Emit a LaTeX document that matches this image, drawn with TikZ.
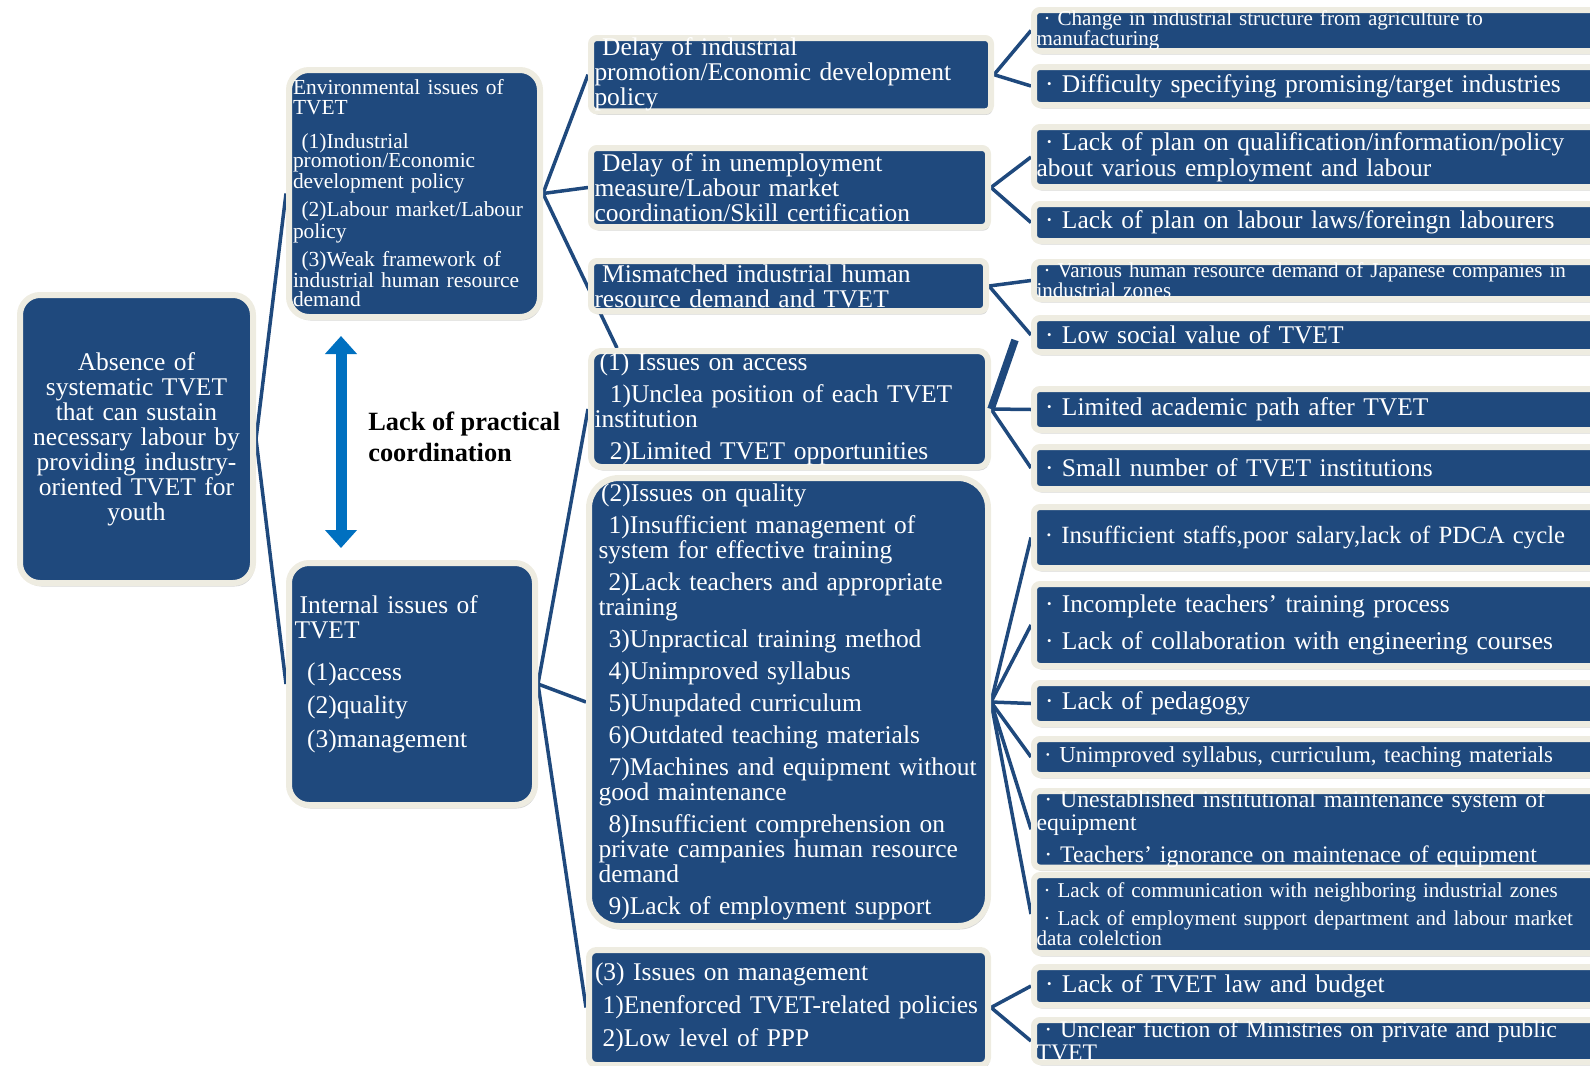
\documentclass[tikz,border=0pt]{standalone}
\usepackage{fontspec}
\setmainfont{Liberation Serif}
\usetikzlibrary{arrows.meta,shadows,backgrounds,calc}
\definecolor{boxblue}{RGB}{31,73,125}
\definecolor{boxrim}{RGB}{238,236,225}
\definecolor{arrowblue}{RGB}{0,112,192}
\newcommand{\bdot}{\makebox[1em]{\textperiodcentered}}

\begin{document}
\begin{tikzpicture}[x=0.2mm, y=-0.2mm,
  issue/.style={rectangle, rounded corners=1.2mm, fill=boxblue, draw=boxrim, line width=1.2mm, text=white, anchor=north west, align=left, inner xsep=0.8mm, inner ysep=0mm, drop shadow={shadow xshift=0.3mm, shadow yshift=-0.7mm, opacity=0.35, fill=black!45}},
  cause/.style={issue, minimum width=126mm, text width=125mm, inner xsep=0.4mm},
  bigtext/.style={font=\fontsize{14.5}{14.2}\selectfont},
  rbigtext/.style={font=\fontsize{14.5}{15}\selectfont},
  midtext/.style={font=\fontsize{13.5}{13}\selectfont},
  smalltext/.style={font=\fontsize{12}{11.3}\selectfont},
  envtext/.style={font=\fontsize{12.2}{10.9}\selectfont},
  branch/.style={draw=boxblue, line width=0.7mm}]
\useasboundingbox (0,0) rectangle (1590,1065);

% root and the two groups of issues
\node[issue, rounded corners=4mm, align=center, bigtext, minimum width=46.6mm, minimum height=57.6mm, text width=44mm] (root) at (17,292) {Absence of\\ systematic TVET\\ that can sustain\\ necessary labour by\\ providing industry-\\ oriented TVET for\\ youth};
\node[issue, rounded corners=4mm, envtext, minimum width=50.2mm, minimum height=49.4mm, text width=48.6mm] (env) at (286,67) {Environmental issues of\\ TVET\\[3mm]
  \hspace*{0.4em}(1)Industrial\\ promotion/Economic\\ development policy\\[1.4mm]
  \hspace*{0.4em}(2)Labour market/Labour\\ policy\\[1.4mm]
  \hspace*{0.4em}(3)Weak framework of\\ industrial human resource\\ demand};
\node[issue, rounded corners=4mm, bigtext, minimum width=49.2mm, minimum height=48.4mm, text width=47mm, inner xsep=1.1mm] (internal) at (286,560) {\hspace*{0.2em}Internal issues of\\ TVET\\[3.4mm]
  \hspace*{0.5em}(1)access\\[1.8mm] \hspace*{0.5em}(2)quality\\[1.8mm] \hspace*{0.5em}(3)management\\ \mbox{}};

% middle column
\node[issue, bigtext, minimum width=80mm, minimum height=14.4mm, text width=78.6mm, inner xsep=0.7mm] (delind) at (588,35) {\hspace*{0.3em}Delay of industrial\\ promotion/Economic development\\ policy};
\node[issue, bigtext, minimum width=79.4mm, minimum height=15.8mm, text width=78mm, inner xsep=0.7mm] (delunemp) at (588,145) {\hspace*{0.3em}Delay of in unemployment\\ measure/Labour market\\ coordination/Skill certification};
\node[issue, bigtext, minimum width=79mm, minimum height=10mm, text width=77.6mm, inner xsep=0.7mm] (mism) at (588,258) {\hspace*{0.3em}Mismatched industrial human\\ resource demand and TVET};
\node[issue, rounded corners=2mm, bigtext, minimum width=79.4mm, minimum height=23.2mm, text width=78mm, inner xsep=0.7mm] (access) at (588,348) {\hspace*{0.2em}(1) Issues on access\\[1.4mm]
  \hspace*{0.6em}1)Unclea position of each TVET\\ institution\\[1.4mm]
  \hspace*{0.6em}2)Limited TVET opportunities};
\node[issue, rounded corners=6mm, bigtext, minimum width=79.8mm, minimum height=89.6mm, text width=76mm, inner xsep=1.8mm] (quality) at (586,475) {\hspace*{0.1em}(2)Issues on quality\\[1.4mm]
  \hspace*{0.4em}1)Insufficient management of\\ system for effective training\\[1.4mm]
  \hspace*{0.4em}2)Lack teachers and appropriate\\ training\\[1.4mm]
  \hspace*{0.4em}3)Unpractical training method\\[1.4mm]
  \hspace*{0.4em}4)Unimproved syllabus\\[1.4mm]
  \hspace*{0.4em}5)Unupdated curriculum\\[1.4mm]
  \hspace*{0.4em}6)Outdated teaching materials\\[1.4mm]
  \hspace*{0.4em}7)Machines and equipment without\\ good maintenance\\[1.4mm]
  \hspace*{0.4em}8)Insufficient comprehension on\\ private campanies human resource\\ demand\\[1.4mm]
  \hspace*{0.4em}9)Lack of employment support};
\node[issue, rounded corners=1.5mm, bigtext, minimum width=79.8mm, minimum height=23mm, text width=77.4mm, inner xsep=1.2mm] (mgmt) at (586,947) {(3) Issues on management\\[1.6mm]
  \hspace*{0.3em}1)Enenforced TVET-related policies\\[1.6mm]
  \hspace*{0.3em}2)Low level of PPP};

% right column
\node[cause, smalltext, minimum height=8.2mm] (chg) at (1031,7) {\bdot Change in industrial structure from agriculture to\\ manufacturing};
\node[cause, rbigtext, minimum height=7.6mm] (diff) at (1031,64) {\bdot Difficulty specifying promising/target industries};
\node[cause, rbigtext, minimum height=12mm] (qual) at (1031,124) {\bdot Lack of plan on qualification/information/policy\\ about various employment and labour};
\node[cause, rbigtext, minimum height=7.4mm] (laws) at (1031,201) {\bdot Lack of plan on labour laws/foreingn labourers};
\node[cause, smalltext, minimum height=7.4mm] (japan) at (1031,259) {\bdot Various human resource demand of Japanese companies in\\ industrial zones};
\node[cause, rbigtext, minimum height=6.8mm] (social) at (1031,315) {\bdot Low social value of TVET};
\node[cause, rbigtext, minimum height=8.2mm] (acad) at (1031,386) {\bdot Limited academic path after TVET};
\node[cause, rbigtext, minimum height=8.4mm] (small) at (1031,444) {\bdot Small number of TVET institutions};
\node[cause, font=\fontsize{14.1}{15}\selectfont, minimum height=12.2mm] (staff) at (1031,504) {\bdot Insufficient staffs,poor salary,lack of PDCA cycle};
\node[cause, rbigtext, minimum height=16.4mm] (teach) at (1031,581) {\bdot Incomplete teachers' training process\\[2mm]
  \bdot Lack of collaboration with engineering courses};
\node[cause, rbigtext, minimum height=8.2mm] (pedag) at (1031,680) {\bdot Lack of pedagogy};
\node[cause, font=\fontsize{13}{13}\selectfont, minimum height=7.2mm] (syll) at (1031,736) {\bdot Unimproved syllabus, curriculum, teaching materials};
\node[cause, midtext, minimum height=14.8mm] (equip) at (1031,788) {\bdot Unestablished institutional maintenance system of\\ equipment\\[1.8mm]
  \bdot Teachers' ignorance on maintenace of equipment};
\node[cause, smalltext, minimum height=15.6mm] (comm) at (1031,872) {\bdot Lack of communication with  neighboring industrial zones\\[1.6mm]
  \bdot Lack of employment support department and labour market\\ data colelction};
\node[cause, rbigtext, minimum height=7.6mm] (law) at (1031,964) {\bdot Lack of TVET law and budget};
\node[cause, midtext, minimum height=8.4mm] (minis) at (1031,1017) {\bdot Unclear fuction of Ministries on private and public\\ TVET};

% coordination arrow
\coordinate (uptip) at (341,336);
\coordinate (downtip) at (341,548);
\draw[arrowblue, line width=2.2mm, {Triangle[width=6.2mm,length=3.6mm]}-{Triangle[width=6.2mm,length=3.6mm]}] (uptip) -- (downtip);
\node[anchor=west, inner sep=0pt, align=left, font=\fontsize{15}{17.6}\selectfont\bfseries] (coordlabel) at (368,437) {Lack of practical\\ coordination};

% connectors
\coordinate (socialfoot) at ($(social.west)+(-16,5)$);
\begin{scope}[on background layer]
\draw[branch] (root.east) -- (env.west);
\draw[branch] (root.east) -- (internal.west);
\draw[branch] (env.east) -- (delind.west);
\draw[branch] (env.east) -- (delunemp.west);
\draw[branch] (env.east) -- ($(access.north west)+(29,0)$);
\draw[branch] (internal.east) -- (access.west);
\draw[branch] (internal.east) -- (quality.west);
\draw[branch] (internal.east) -- (mgmt.west);
\draw[branch] (delind.east) -- (chg.west);
\draw[branch] (delind.east) -- (diff.west);
\draw[branch] (delunemp.east) -- (qual.west);
\draw[branch] (delunemp.east) -- (laws.west);
\draw[branch] (mism.east) -- (japan.west);
\draw[branch] (mism.east) -- (social.west);
\draw[branch] (access.east) -- (acad.west);
\draw[branch] (access.east) -- (small.west);
\draw[branch] (quality.east) -- (staff.west);
\draw[branch] (quality.east) -- (teach.west);
\draw[branch] (quality.east) -- (pedag.west);
\draw[branch] (quality.east) -- (syll.west);
\draw[branch] (quality.east) -- (equip.west);
\draw[branch] (quality.east) -- (comm.west);
\draw[branch] (mgmt.east) -- (law.west);
\draw[branch] (mgmt.east) -- (minis.west);
\end{scope}
\draw[branch, line width=1.5mm] (access.east) -- (socialfoot);
\end{tikzpicture}
\end{document}
